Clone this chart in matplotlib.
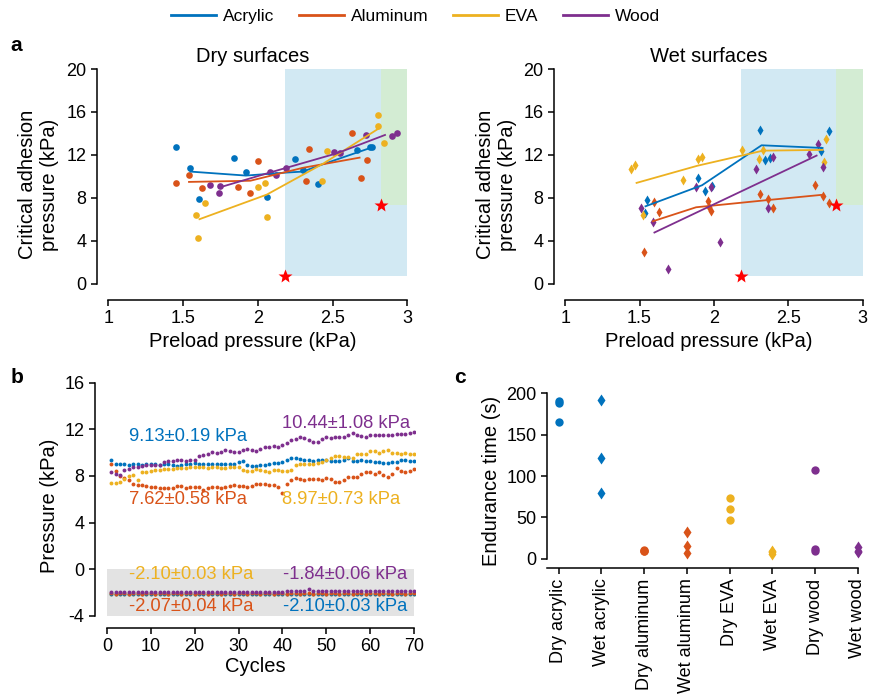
"""
Adhesion / cycling / endurance figure (panels a, b, c)
"""
import matplotlib
matplotlib.use('Agg')
import matplotlib.pyplot as plt
from matplotlib.lines import Line2D
from matplotlib.patches import Rectangle

plt.rcParams['font.family'] = ['Liberation Sans', 'DejaVu Sans']
plt.rcParams['axes.linewidth'] = 1.1

materials = ['Acrylic', 'Aluminum', 'EVA', 'Wood']
colors = ['#0072BD', '#D95319', '#EDB120', '#7E2F8E']

# ---------- panel a: dry surfaces (preload kPa, adhesion kPa) ----------
dry_acrylic_x = [1.45, 1.55, 1.61, 1.84, 1.92, 2.06, 2.25, 2.30, 2.40, 2.66, 2.75, 2.76]
dry_acrylic_y = [12.7, 10.8, 7.9, 11.7, 10.4, 8.1, 11.6, 10.6, 9.3, 12.5, 12.7, 12.7]
dry_aluminum_x = [1.45, 1.54, 1.63, 1.87, 1.95, 2.00, 2.32, 2.34, 2.63, 2.69, 2.73]
dry_aluminum_y = [9.4, 10.1, 8.9, 9.0, 8.5, 11.4, 9.6, 12.6, 14.0, 9.9, 11.5]
dry_eva_x = [1.59, 1.60, 1.65, 2.00, 2.05, 2.06, 2.43, 2.46, 2.80, 2.80, 2.84]
dry_eva_y = [6.4, 4.3, 7.5, 9.0, 9.4, 6.2, 9.6, 12.4, 15.7, 14.7, 13.1]
dry_wood_x = [1.68, 1.74, 1.75, 2.08, 2.12, 2.19, 2.51, 2.55, 2.72, 2.90, 2.93]
dry_wood_y = [9.2, 8.5, 9.1, 10.4, 10.1, 10.8, 12.3, 12.2, 13.9, 13.8, 14.0]

dry_acrylic_fit_x = [1.55, 1.92, 2.19, 2.30, 2.44, 2.76]
dry_acrylic_fit_y = [10.45, 10.08, 10.36, 10.45, 11.16, 12.69]
dry_aluminum_fit_x = [1.54, 1.95, 2.30, 2.68]
dry_aluminum_fit_y = [9.49, 9.6, 10.8, 11.75]
dry_eva_fit_x = [1.61, 2.06, 2.44, 2.81]
dry_eva_fit_y = [6.02, 8.31, 11.22, 14.48]
dry_wood_fit_x = [1.74, 2.08, 2.53, 2.85]
dry_wood_fit_y = [8.96, 10.36, 12.16, 13.86]

# ---------- panel a: wet surfaces ----------
wet_acrylic_x = [1.55, 1.54, 1.89, 1.94, 1.99, 2.31, 2.34, 2.38, 2.72, 2.77]
wet_acrylic_y = [7.8, 6.6, 9.9, 8.6, 9.1, 14.3, 11.5, 11.7, 12.4, 14.2]
wet_aluminum_x = [1.53, 1.60, 1.63, 1.96, 1.97, 1.98, 2.31, 2.36, 2.40, 2.68, 2.73, 2.77]
wet_aluminum_y = [3.0, 7.6, 6.7, 7.7, 7.2, 6.8, 8.4, 7.9, 7.1, 9.2, 8.2, 7.5]
wet_eva_x = [1.44, 1.47, 1.52, 1.79, 1.89, 1.92, 2.19, 2.30, 2.33, 2.74, 2.75]
wet_eva_y = [10.7, 11.1, 6.4, 9.7, 11.6, 11.8, 12.5, 11.6, 12.5, 11.3, 13.5]
wet_wood_x = [1.51, 1.59, 1.69, 1.88, 1.98, 2.04, 2.28, 2.36, 2.40, 2.64, 2.70, 2.73]
wet_wood_y = [7.1, 5.8, 1.4, 9.0, 9.0, 3.9, 10.7, 7.1, 11.8, 12.1, 13.0, 10.9]

wet_acrylic_fit_x = [1.54, 1.92, 2.32, 2.73]
wet_acrylic_fit_y = [7.22, 9.18, 12.9, 12.65]
wet_aluminum_fit_x = [1.59, 1.88, 2.36, 2.72]
wet_aluminum_fit_y = [5.83, 7.13, 7.8, 8.28]
wet_eva_fit_x = [1.48, 1.89, 2.33, 2.73]
wet_eva_fit_y = [9.4, 11.0, 12.4, 12.47]
wet_wood_fit_x = [1.60, 2.69]
wet_wood_fit_y = [4.78, 11.94]

# shaded regions and star corners (preload, adhesion)
region_blue = (2.18, 3.0, 0.77, 20.0)
region_green = (2.82, 3.0, 7.35, 20.0)
star_x = [2.18, 2.82]
star_y = [0.77, 7.35]

# ---------- panel b: cycling (pressure kPa per cycle) ----------
cycles = list(range(1, 71))
b_acrylic = [9.4, 9.05, 9.0, 9.0, 8.95, 9.0, 9.0, 8.95, 9.0, 9.0,
             9.0, 8.95, 9.0, 9.0, 8.9, 8.85, 8.9, 9.0, 9.05, 9.1,
             9.05, 9.0, 9.0, 9.0, 9.05, 9.0, 9.0, 9.0, 9.05, 9.2,
             9.3, 8.9, 8.85, 8.85, 8.9, 8.95, 9.0, 9.1, 9.15, 9.2,
             9.35, 9.5, 9.5, 9.45, 9.4, 9.4, 9.3, 9.35, 9.35, 9.4,
             9.3, 9.3, 9.25, 9.4, 9.5, 9.3, 9.25, 9.4, 9.3, 9.3,
             9.2, 9.2, 9.1, 9.15, 9.2, 9.2, 9.35, 9.35, 9.3, 9.3]
b_aluminum = [9.0, 8.45, 8.0, 7.85, 7.65, 7.3, 7.2, 7.2, 7.1, 7.05,
              7.05, 7.0, 6.95, 7.0, 6.95, 7.15, 7.15, 7.0, 7.05, 7.05,
              7.05, 6.8, 7.0, 7.05, 7.05, 7.0, 7.05, 7.1, 7.2, 7.15,
              7.15, 7.05, 7.1, 7.3, 7.3, 7.3, 7.25, 7.2, 7.05, 6.5,
              7.35, 7.65, 7.8, 7.7, 7.65, 7.7, 7.75, 7.7, 7.65, 7.8,
              7.7, 7.5, 7.45, 7.65, 7.9, 7.9, 7.95, 8.2, 8.3, 8.35,
              8.2, 8.35, 8.05, 7.9, 8.2, 8.7, 8.45, 8.3, 8.45, 8.6]
b_eva = [7.4, 7.4, 7.5, 7.7, 8.0, 8.05, 7.65, 8.3, 8.3, 8.45,
         8.5, 8.55, 8.6, 8.6, 8.6, 8.65, 8.7, 8.7, 8.75, 8.75,
         8.8, 8.75, 8.7, 8.8, 8.75, 8.7, 8.7, 8.75, 8.8, 8.75,
         8.5, 8.45, 8.45, 8.6, 8.55, 8.45, 8.35, 8.5, 8.5, 8.4,
         8.45, 8.55, 8.9, 9.0, 9.0, 9.0, 9.05, 9.1, 9.2, 9.4,
         9.5, 9.7, 9.7, 9.65, 9.65, 9.55, 9.85, 9.85, 9.9, 10.15,
         10.1, 9.95, 10.1, 10.2, 10.0, 10.0, 9.9, 9.95, 9.9, 9.85]
b_wood = [8.3, 8.2, 8.05, 8.55, 8.6, 8.75, 8.8, 8.85, 8.9, 8.9,
          8.9, 8.95, 9.2, 9.25, 9.3, 9.35, 9.35, 9.3, 9.35, 9.4,
          9.75, 9.8, 9.9, 10.05, 10.0, 10.05, 10.25, 10.15, 10.05, 10.05,
          10.2, 10.35, 10.2, 10.1, 10.35, 10.45, 10.5, 10.55, 10.5, 10.65,
          10.85, 11.05, 11.2, 11.3, 11.25, 11.1, 10.9, 10.95, 11.2, 11.3,
          11.25, 11.3, 11.35, 11.35, 11.5, 11.65, 11.55, 11.45, 11.3, 11.55,
          11.5, 11.5, 11.55, 11.55, 11.55, 11.6, 11.6, 11.6, 11.65, 11.75]
b_acrylic_neg = [-2.1, -2.12, -2.1, -2.08, -2.1, -2.11, -2.1, -2.09, -2.1, -2.12,
                 -2.1, -2.08, -2.1, -2.1, -2.11, -2.1, -2.09, -2.1, -2.12, -2.1,
                 -2.1, -2.08, -2.1, -2.11, -2.1, -2.1, -2.09, -2.1, -2.12, -2.1,
                 -2.1, -2.08, -2.1, -2.11, -2.1, -2.1, -2.09, -2.1, -2.12, -2.1,
                 -2.1, -2.08, -2.1, -2.11, -2.1, -2.1, -2.09, -2.1, -2.12, -2.1,
                 -2.1, -2.08, -2.1, -2.11, -2.1, -2.1, -2.09, -2.1, -2.12, -2.1,
                 -2.1, -2.08, -2.1, -2.11, -2.1, -2.1, -2.09, -2.1, -2.12, -2.1]
b_aluminum_neg = [-2.05, -2.08, -2.07, -2.06, -2.09, -2.07, -2.05, -2.08, -2.07, -2.06,
                  -2.09, -2.07, -2.05, -2.08, -2.07, -2.06, -2.09, -2.07, -2.05, -2.08,
                  -2.07, -2.06, -2.09, -2.07, -2.05, -2.08, -2.07, -2.06, -2.09, -2.07,
                  -2.05, -2.08, -2.07, -2.06, -2.09, -2.07, -2.05, -2.08, -2.07, -2.06,
                  -2.09, -2.07, -2.05, -2.08, -2.07, -2.06, -2.09, -2.07, -2.05, -2.08,
                  -2.07, -2.06, -2.09, -2.07, -2.05, -2.08, -2.07, -2.06, -2.09, -2.07,
                  -2.05, -2.08, -2.07, -2.06, -2.09, -2.07, -2.05, -2.08, -2.07, -2.06]
b_eva_neg = [-2.12, -2.1, -2.11, -2.09, -2.1, -2.12, -2.1, -2.11, -2.09, -2.1,
             -2.12, -2.1, -2.11, -2.09, -2.1, -2.12, -2.1, -2.11, -2.09, -2.1,
             -2.12, -2.1, -2.11, -2.09, -2.1, -2.12, -2.1, -2.11, -2.09, -2.1,
             -2.12, -2.1, -2.11, -2.09, -2.1, -2.12, -2.1, -2.11, -2.09, -2.1,
             -2.12, -2.1, -2.11, -2.09, -2.1, -2.12, -2.1, -2.11, -2.09, -2.1,
             -2.12, -2.1, -2.11, -2.09, -2.1, -2.12, -2.1, -2.11, -2.09, -2.1,
             -2.12, -2.1, -2.11, -2.09, -2.1, -2.12, -2.1, -2.11, -2.09, -2.1]
b_wood_neg = [-1.96, -1.94, -1.95, -1.93, -1.96, -1.94, -1.95, -1.93, -1.94, -1.95,
              -1.94, -1.93, -1.95, -1.94, -1.92, -1.94, -1.95, -1.93, -1.94, -1.92,
              -1.94, -1.93, -1.92, -1.94, -1.93, -1.92, -1.93, -1.94, -1.92, -1.93,
              -1.92, -1.93, -1.94, -1.92, -1.93, -1.92, -1.93, -1.92, -1.91, -1.92,
              -1.9, -1.9, -1.88, -1.88, -1.87, -1.72, -1.84, -1.86, -1.87, -1.86,
              -1.85, -1.86, -1.85, -1.84, -1.85, -1.84, -1.85, -1.84, -1.83, -1.84,
              -1.84, -1.83, -1.84, -1.83, -1.84, -1.83, -1.82, -1.83, -1.82, -1.82]
b_labels_pos = ['9.13±0.19 kPa', '7.62±0.58 kPa', '8.97±0.73 kPa', '10.44±1.08 kPa']
b_labels_neg = ['-2.10±0.03 kPa', '-2.07±0.04 kPa', '-2.10±0.03 kPa', '-1.84±0.06 kPa']

# ---------- panel c: endurance time (s) ----------
c_categories = ['Dry acrylic', 'Wet acrylic', 'Dry aluminum', 'Wet aluminum',
                'Dry EVA', 'Wet EVA', 'Dry wood', 'Wet wood']
c_values = [[191, 188, 166],
            [192, 122, 80],
            [10, 10, 11],
            [33, 16, 7],
            [73, 60, 47],
            [10, 8, 6],
            [107, 12, 9],
            [14, 10, 8]]

LABEL_FS = 14.5
TICK_FS = 13


def style_axes(ax):
    ax.spines['top'].set_visible(False)
    ax.spines['right'].set_visible(False)
    ax.tick_params(direction='out', length=4, width=1.1, labelsize=TICK_FS)


fig = plt.figure(figsize=(8.69, 6.97), dpi=100)

# panel a
ax_dry = fig.add_axes([0.1116, 0.5696, 0.359, 0.3314])
ax_wet = fig.add_axes([0.6375, 0.5696, 0.3570, 0.3314])

dry_sets = [(dry_acrylic_x, dry_acrylic_y, dry_acrylic_fit_x, dry_acrylic_fit_y),
            (dry_aluminum_x, dry_aluminum_y, dry_aluminum_fit_x, dry_aluminum_fit_y),
            (dry_eva_x, dry_eva_y, dry_eva_fit_x, dry_eva_fit_y),
            (dry_wood_x, dry_wood_y, dry_wood_fit_x, dry_wood_fit_y)]
wet_sets = [(wet_acrylic_x, wet_acrylic_y, wet_acrylic_fit_x, wet_acrylic_fit_y),
            (wet_aluminum_x, wet_aluminum_y, wet_aluminum_fit_x, wet_aluminum_fit_y),
            (wet_eva_x, wet_eva_y, wet_eva_fit_x, wet_eva_fit_y),
            (wet_wood_x, wet_wood_y, wet_wood_fit_x, wet_wood_fit_y)]

for ax, sets, marker, ms, title in [(ax_dry, dry_sets, 'o', 4.8, 'Dry surfaces'),
                                    (ax_wet, wet_sets, 'd', 5.5, 'Wet surfaces')]:
    x0, x1, y0, y1 = region_blue
    ax.add_patch(Rectangle((x0, y0), x1 - x0, y1 - y0, color='#d2e9f3', lw=0, zorder=0))
    x0, x1, y0, y1 = region_green
    ax.add_patch(Rectangle((x0, y0), x1 - x0, y1 - y0, color='#d3ecd3', lw=0, zorder=0))
    for (px, py, fx, fy), c in zip(sets, colors):
        ax.plot(px, py, marker, color=c, ms=ms, mec='none', zorder=3)
        ax.plot(fx, fy, '-', color=c, lw=1.3, zorder=4)
    ax.plot(star_x, star_y, '*', color='red', ms=10, mec='none', zorder=5, clip_on=False)
    style_axes(ax)
    ax.set_xlim(0.925, 3.01)
    ax.set_ylim(-1.5, 20)
    ax.spines['left'].set_bounds(0, 20)
    ax.spines['bottom'].set_bounds(1, 3)
    ax.set_xticks([1, 1.5, 2, 2.5, 3])
    ax.set_xticklabels(['1', '1.5', '2', '2.5', '3'])
    ax.set_yticks([0, 4, 8, 12, 16, 20])
    ax.set_xlabel('Preload pressure (kPa)', fontsize=LABEL_FS, labelpad=3)
    ax.set_ylabel('Critical adhesion\npressure (kPa)', fontsize=LABEL_FS, labelpad=5)
    ax.set_title(title, fontsize=LABEL_FS, pad=5)

# panel b
ax_b = fig.add_axes([0.1093, 0.099, 0.3682, 0.352])
ax_b.add_patch(Rectangle((0, -4), 70, 4, color='#e3e3e3', lw=0, zorder=0))
for series, c in zip([b_acrylic, b_aluminum, b_eva, b_wood], colors):
    ax_b.plot(cycles, series, 'o', color=c, ms=2.8, mec='none', zorder=3)
for series, c in zip([b_eva_neg, b_acrylic_neg, b_aluminum_neg, b_wood_neg],
                     [colors[2], colors[0], colors[1], colors[3]]):
    ax_b.plot(cycles, series, 'o', color=c, ms=2.8, mec='none', zorder=3)
txt = dict(fontsize=13.2, ha='center', va='center')
ax_b.text(18.5, 11.42, b_labels_pos[0], color=colors[0], **txt)
ax_b.text(18.5, 5.98, b_labels_pos[1], color=colors[1], **txt)
ax_b.text(53.4, 5.98, b_labels_pos[2], color=colors[2], **txt)
ax_b.text(54.6, 12.5, b_labels_pos[3], color=colors[3], **txt)
ax_b.text(19.2, -0.43, b_labels_neg[2], color=colors[2], **txt)
ax_b.text(54.2, -0.43, b_labels_neg[3], color=colors[3], **txt)
ax_b.text(19.2, -3.23, b_labels_neg[1], color=colors[1], **txt)
ax_b.text(54.2, -3.23, b_labels_neg[0], color=colors[0], **txt)
style_axes(ax_b)
ax_b.set_xlim(-2.7, 70.2)
ax_b.set_ylim(-5.03, 16)
ax_b.spines['left'].set_bounds(-4, 16)
ax_b.spines['bottom'].set_bounds(0, 70)
ax_b.set_xticks(range(0, 71, 10))
ax_b.set_yticks([-4, 0, 4, 8, 12, 16])
ax_b.set_yticklabels(['-4', '0', '4', '8', '12', '16'])
ax_b.set_xlabel('Cycles', fontsize=LABEL_FS, labelpad=1)
ax_b.set_ylabel('Pressure (kPa)', fontsize=LABEL_FS)

# panel c
ax_c = fig.add_axes([0.6295, 0.185, 0.3578, 0.2505])
for i, (vals, cat) in enumerate(zip(c_values, c_categories)):
    c = colors[i // 2]
    marker = 'o' if cat.startswith('Dry') else 'd'
    ax_c.plot([i] * len(vals), vals, marker, color=c, ms=6.5 if marker == 'd' else 6,
              mec='none', clip_on=False, zorder=3)
style_axes(ax_c)
ax_c.set_xlim(-0.27, 7.0)
ax_c.set_ylim(-11.2, 200)
ax_c.spines['left'].set_bounds(0, 200)
ax_c.set_xticks(range(len(c_categories)))
ax_c.set_xticklabels(c_categories, rotation=90)
ax_c.set_yticks([0, 50, 100, 150, 200])
ax_c.set_ylabel('Endurance time (s)', fontsize=LABEL_FS)

# legend and panel letters
handles = [Line2D([0], [0], color=c, lw=2) for c in colors]
fig.legend(handles, materials, loc='upper center', bbox_to_anchor=(0.478, 1.01),
           ncol=4, frameon=False, fontsize=12.5, handlelength=2.6,
           handletextpad=0.4, columnspacing=1.4)
fig.text(0.012, 0.935, 'a', fontsize=15, fontweight='bold', va='center')
fig.text(0.012, 0.459, 'b', fontsize=15, fontweight='bold', va='center')
fig.text(0.523, 0.459, 'c', fontsize=15, fontweight='bold', va='center')

fig.savefig('out.png', dpi=100)
